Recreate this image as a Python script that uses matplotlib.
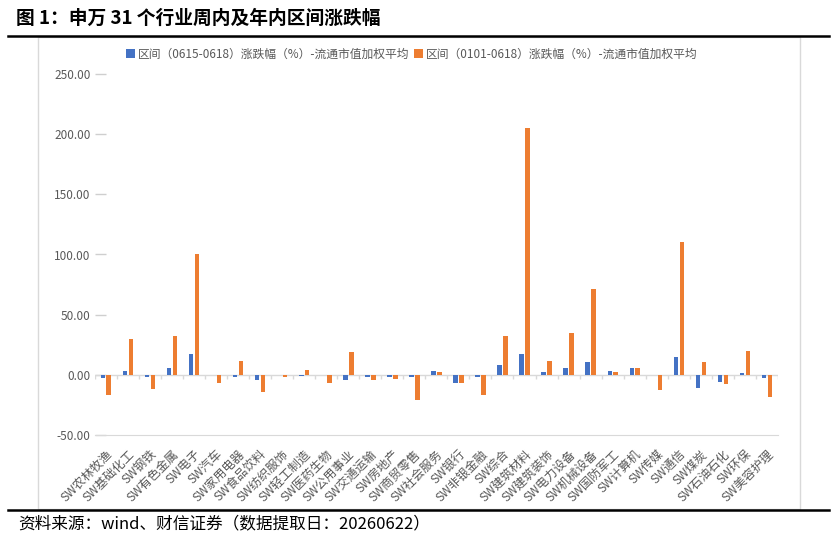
import matplotlib.pyplot as plt
import matplotlib.patches as mpatches
from matplotlib.lines import Line2D
import numpy as np

plt.rcParams['font.family'] = ['Noto Sans CJK SC', 'DejaVu Sans']

industries = ['SW农林牧渔', 'SW基础化工', 'SW钢铁', 'SW有色金属', 'SW电子', 'SW汽车',
              'SW家用电器', 'SW食品饮料', 'SW纺织服饰', 'SW轻工制造', 'SW医药生物',
              'SW公用事业', 'SW交通运输', 'SW房地产', 'SW商贸零售', 'SW社会服务',
              'SW银行', 'SW非银金融', 'SW综合', 'SW建筑材料', 'SW建筑装饰',
              'SW电力设备', 'SW机械设备', 'SW国防军工', 'SW计算机', 'SW传媒',
              'SW通信', 'SW煤炭', 'SW石油石化', 'SW环保', 'SW美容护理']
week_chg = [-3.0, 3.6, -2.0, 5.5, 17.7, -0.2, -1.4, -4.7, -0.3, -1.1, -0.3,
            -4.2, -2.0, -1.4, -2.0, 3.0, -6.4, -1.9, 7.8, 17.5, 2.5,
            5.5, 10.8, 3.0, 5.5, -0.2, 15.0, -11.1, -5.8, 1.9, -2.8]
ytd_chg = [-16.6, 29.7, -11.6, 32.0, 100.6, -6.7, 11.6, -13.9, -2.0, 4.2, -6.7,
           18.6, -4.2, -3.6, -21.0, 2.2, -6.9, -16.4, 32.4, 205.4, 11.6,
           34.4, 71.5, 2.2, 5.5, -12.8, 110.6, 10.3, -7.5, 19.4, -18.3]
yticks = [-50, 0, 50, 100, 150, 200, 250]
legend_labels = ['区间（0615-0618）涨跌幅（%）-流通市值加权平均',
                 '区间（0101-0618）涨跌幅（%）-流通市值加权平均']

blue = '#4472C4'
orange = '#ED7D31'
grey = '#D9D9D9'
txt = '#595959'

W, H = 837, 549
fig = plt.figure(figsize=(W / 100, H / 100), dpi=100)

# frame lines and chart border
fig.add_artist(Line2D([8 / W, 829 / W], [1 - 36 / H, 1 - 36 / H], color='black', lw=1.8))
fig.add_artist(Line2D([8 / W, 829 / W], [1 - 510 / H, 1 - 510 / H], color='black', lw=1.8))
fig.add_artist(mpatches.Rectangle((38 / W, 1 - 509 / H), 762 / W, 472 / H,
                                  fill=False, edgecolor=grey, lw=1))

fig.text(16 / W, 1 - 18 / H, '图 1：申万 31 个行业周内及年内区间涨跌幅',
         fontsize=13.5, fontweight='bold', va='center', ha='left')
fig.text(18 / W, 1 - 524 / H, '资料来源：wind、财信证券（数据提取日：20260622）',
         fontsize=12, va='center', ha='left')

ax = fig.add_axes([94.7 / W, 1 - 435 / H, (778 - 94.7) / W, (435 - 74) / H])
x = np.arange(len(industries))
bw = 0.21
ax.bar(x - 0.13, week_chg, bw, color=blue, label=legend_labels[0], zorder=3)
ax.bar(x + 0.14, ytd_chg, bw, color=orange, label=legend_labels[1], zorder=3)

ax.axhline(0, color=grey, lw=1, zorder=2)
ax.vlines(np.arange(len(industries) + 1) - 0.5, -3.5, 0, color=grey, lw=1, zorder=2)

ax.set_xlim(-0.5, len(industries) - 0.5)
ax.set_ylim(-50, 250)
ax.set_yticks(yticks)
ax.set_yticklabels(['%.2f' % v for v in yticks])
ax.tick_params(axis='y', direction='in', length=8, width=1, color='#CFCFCF',
               labelcolor=txt, labelsize=8.5, pad=-2)
for lab in ax.get_yticklabels():
    lab.set_x(-0.01)

ax.set_xticks(x)
ax.set_xticklabels(industries, rotation=45, ha='right', rotation_mode='anchor',
                   fontsize=8.8, color=txt)
ax.tick_params(axis='x', length=0, pad=9)

for s in ['top', 'right', 'left']:
    ax.spines[s].set_visible(False)
ax.spines['bottom'].set_color(grey)

fig.legend(loc='center', bbox_to_anchor=(412 / W, 1 - 54 / H), ncol=2, frameon=False,
           fontsize=8.5, handlelength=0.7, handleheight=0.7, handletextpad=0.3,
           columnspacing=0.4, labelcolor=txt)

fig.savefig('out.png', dpi=100)
